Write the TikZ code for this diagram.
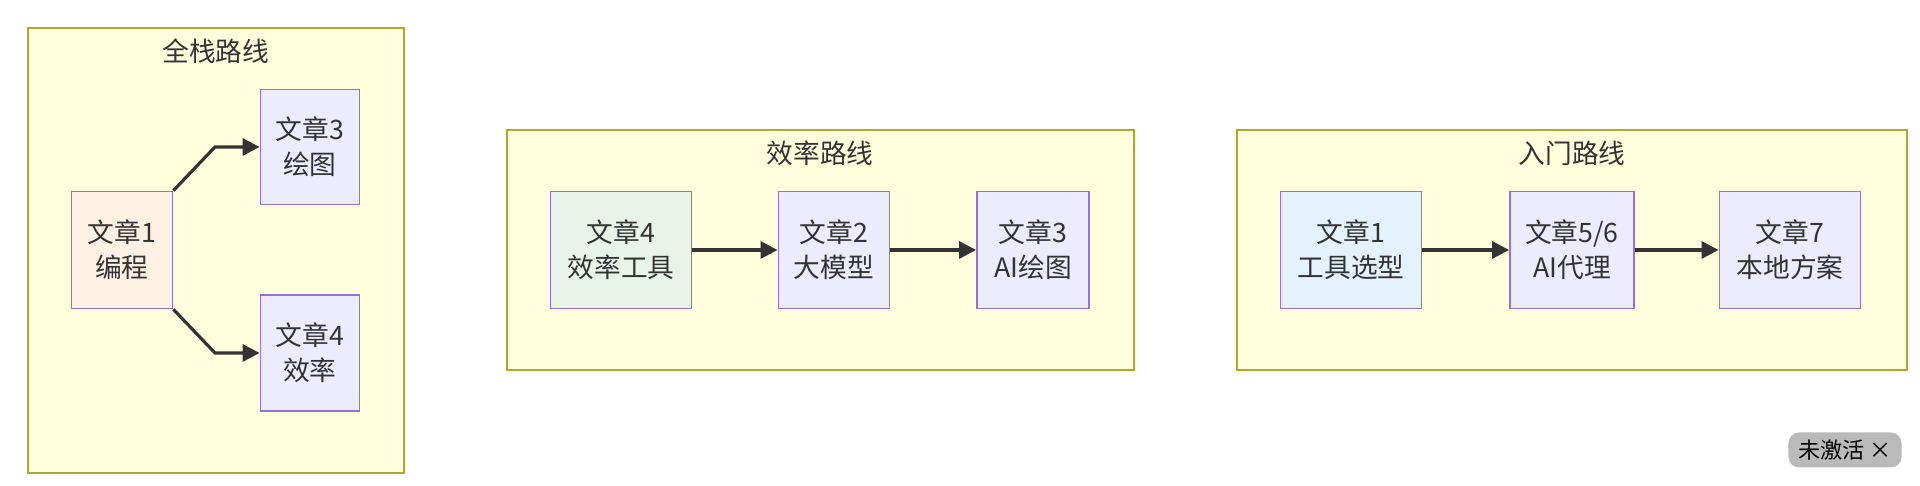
\documentclass[tikz,border=0pt]{standalone}
\usepackage{fontspec}
\setmainfont{Noto Sans CJK SC}
\usetikzlibrary{arrows.meta}
\definecolor{grpfill}{HTML}{FFFFDE}
\definecolor{grpline}{HTML}{AAAA33}
\definecolor{boxfill}{HTML}{ECECFF}
\definecolor{boxline}{HTML}{9370DB}
\definecolor{orangefill}{HTML}{FDF1E3}
\definecolor{greenfill}{HTML}{E8F4E8}
\definecolor{bluefill}{HTML}{E4F2FD}
\definecolor{edgecol}{HTML}{333333}
\tikzset{
  grp/.style={fill=grpfill,draw=grpline,line width=0.5pt},
  grptitle/.style={font=\fontsize{7.6}{8}\selectfont,text=edgecol},
  art/.style={draw=boxline,fill=boxfill,line width=0.5pt,align=center,inner sep=0pt,
    minimum height=1.17cm,font=\fontsize{7.6}{10}\selectfont,text=edgecol},
  link/.style={draw=edgecol,line width=0.9pt,-{Triangle[length=4.8pt,width=4.8pt]}}
}
\begin{document}
\begin{tikzpicture}[x=0.01cm,y=-0.01cm]
\useasboundingbox (0,0) rectangle (1920,486);
% Groupes
\draw[grp](28,28)rectangle(404,473);
\node[grptitle](t1)at(216,51){全栈路线};
\draw[grp](507,130)rectangle(1134,370);
\node[grptitle](t2)at(820,153){效率路线};
\draw[grp](1237,130)rectangle(1907,370);
\node[grptitle](t3)at(1572,153){入门路线};
% Full stack
\node[art,fill=orangefill,minimum width=1.01cm](fa1)at(122,250){文章1\\编程};
\node[art,minimum width=0.99cm,minimum height=1.15cm](fa3)at(310,147){文章3\\绘图};
\node[art,minimum width=0.99cm,minimum height=1.16cm](fa4)at(310,353){文章4\\效率};
\coordinate(fk1)at(215,147);
\coordinate(fk2)at(215,353);
\draw[link](fa1.north east)--(fk1)--(fa3.west|-fk1);
\draw[link](fa1.south east)--(fk2)--(fa4.west|-fk2);
% Efficacité
\node[art,fill=greenfill,minimum width=1.41cm](ea4)at(621,250){文章4\\效率工具};
\node[art,minimum width=1.11cm](ea2)at(834,250){文章2\\大模型};
\node[art,minimum width=1.12cm](ea3)at(1033,250){文章3\\AI绘图};
\draw[link](ea4)--(ea2);
\draw[link](ea2)--(ea3);
% Débutant
\node[art,fill=bluefill,minimum width=1.41cm](ia1)at(1351,250){文章1\\工具选型};
\node[art,minimum width=1.24cm](ia5)at(1572,250){文章5/6\\AI代理};
\node[art,minimum width=1.41cm](ia7)at(1790,250){文章7\\本地方案};
\draw[link](ia1)--(ia5);
\draw[link](ia5)--(ia7);
% Badge
\node[fill=black!27,rounded corners=3pt,minimum width=1.13cm,minimum height=0.35cm,inner sep=0pt,
  font=\fontsize{6.3}{7}\selectfont](badge)at(1845,450){未激活 ×};
\end{tikzpicture}
\end{document}
